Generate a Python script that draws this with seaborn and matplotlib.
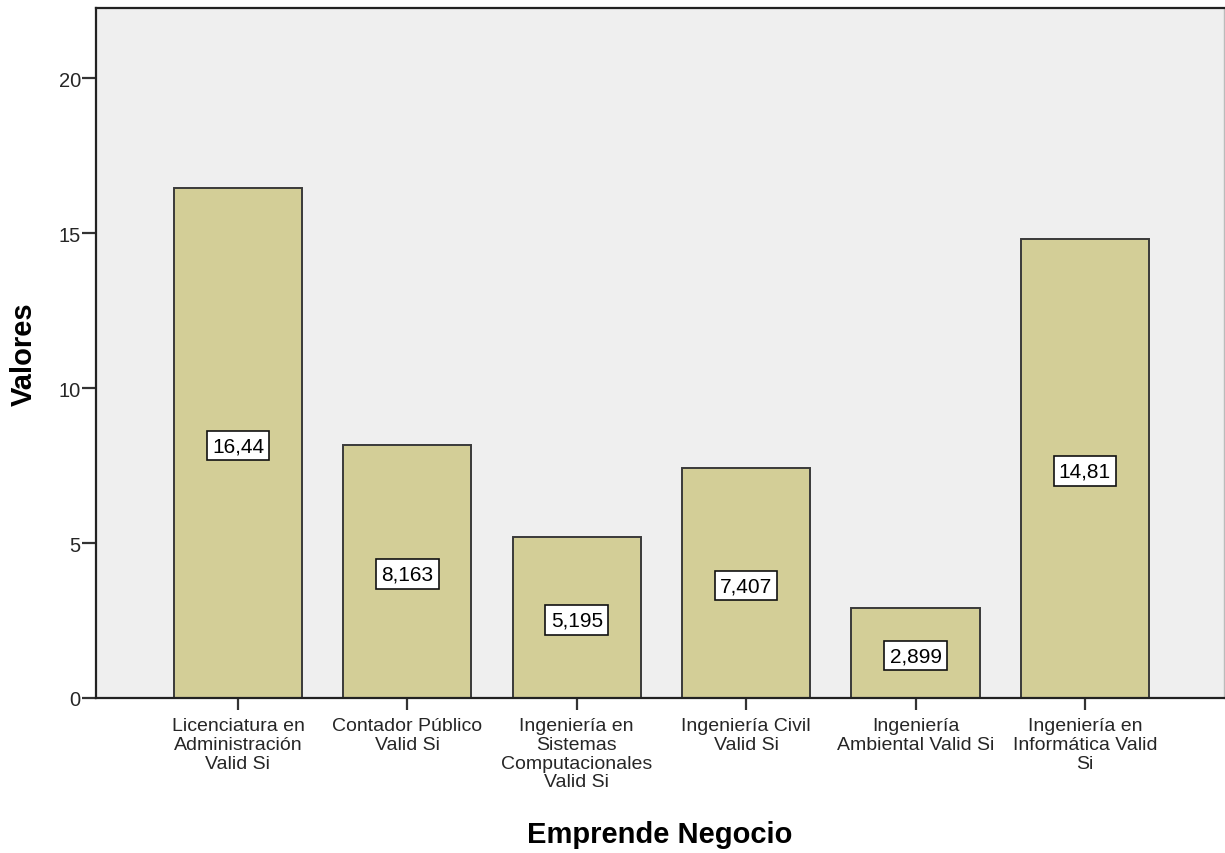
import matplotlib
matplotlib.use("Agg")
import matplotlib.pyplot as plt
import seaborn as sns
import pandas as pd

categorias = [
    "Licenciatura en\nAdministración\nValid Si",
    "Contador Público\nValid Si",
    "Ingeniería en\nSistemas\nComputacionales\nValid Si",
    "Ingeniería Civil\nValid Si",
    "Ingeniería\nAmbiental Valid Si",
    "Ingeniería en\nInformática Valid\nSi",
]
valores = [16.44, 8.163, 5.195, 7.407, 2.899, 14.81]
yticks = [0, 5, 10, 15, 20]

sns.set_theme(style="white")
plt.rcParams["font.family"] = ["Liberation Sans", "DejaVu Sans"]

df = pd.DataFrame({"Emprende Negocio": categorias, "Valores": valores})

fig = plt.figure(figsize=(12.25, 8.54), dpi=100)
ax = fig.add_axes([0.0784, 0.1815, 0.9206, 0.808])
ax.set_facecolor("#EFEFEF")

sns.barplot(data=df, x="Emprende Negocio", y="Valores", color="#D3CE97",
            saturation=1, width=0.756, edgecolor="#3A3A3A", linewidth=1.4, ax=ax)

# value boxes at mid-height of each bar
for patch, v in zip(ax.patches, valores):
    cx = patch.get_x() + patch.get_width() / 2
    ax.text(cx, v / 2 - 0.08, f"{v:.4g}".replace(".", ","), ha="center", va="center",
            fontsize=15, color="black",
            bbox=dict(boxstyle="square,pad=0.25", facecolor="white",
                      edgecolor="#111111", linewidth=1.2))

ax.set_xlim(-0.838, 5.82)
ax.set_ylim(0, 22.26)
ax.set_yticks(yticks)
ax.set_yticklabels([str(t) for t in yticks])

ax.tick_params(axis="y", direction="out", length=10, width=1.6, color="#333333",
               labelsize=14.5, pad=1, left=True)
ax.tick_params(axis="x", direction="out", length=8.6, width=1.6, color="#333333",
               labelsize=14, pad=5, bottom=True)
for lab in ax.get_xticklabels():
    lab.set_linespacing(1.14)

for side in ["left", "bottom", "top"]:
    ax.spines[side].set_color("#222222")
    ax.spines[side].set_linewidth(1.6)
ax.spines["right"].set_color("#BBBBBB")
ax.spines["right"].set_linewidth(1.0)

ax.set_ylabel("Valores", fontsize=21, fontweight="bold", labelpad=15, color="black")
ax.set_xlabel("Emprende Negocio", fontsize=21, fontweight="bold", labelpad=21, color="black")

fig.savefig("out.png", dpi=100, facecolor="white")
